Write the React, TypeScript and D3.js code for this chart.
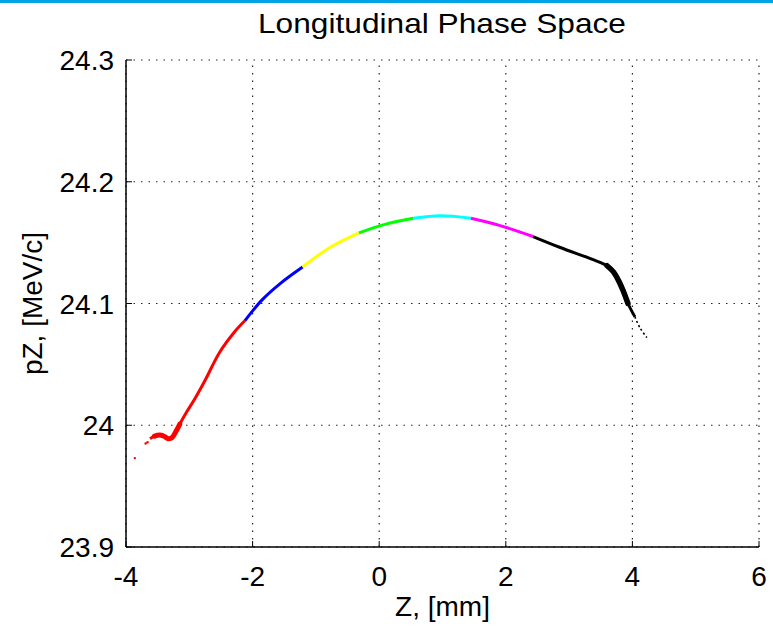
import React from "react";
import * as d3 from "d3";

const W = 773;
const H = 626;

// particle-cloud centreline, Z [mm]
const zValues = [
  -3.62, -3.55, -3.47, -3.40, -3.33, -3.27, -3.21, -3.15, -3.04, -2.91, -2.75, -2.52, -2.28, -2.12,
  -1.85, -1.55, -1.21, -0.78, -0.32, 0.09, 0.54, 0.96, 1.45, 1.91, 2.43,
  2.86, 3.38, 3.6, 3.7, 3.78, 3.85, 3.93, 4.04, 4.12, 4.23,
];
// pZ [MeV/c]
const pzValues = [
  23.989, 23.991, 23.992, 23.991, 23.989, 23.99, 23.995, 24.001, 24.011, 24.022, 24.037, 24.06, 24.077, 24.086,
  24.103, 24.117, 24.13, 24.146, 24.158, 24.165, 24.17, 24.172, 24.17, 24.164, 24.155,
  24.146, 24.136, 24.131, 24.126, 24.119, 24.111, 24.1, 24.089, 24.08, 24.072,
];
// stray particles
const strayZ = [-3.86, -3.69, -3.66];
const strayPz = [23.973, 23.985, 23.986];

// colour slices along Z (upper bound of each slice)
const sliceEnds = [-2.12, -1.21, -0.32, 0.54, 1.45, 2.43, 4.04];
const sliceColors = ["#ff0000", "#0000ff", "#ffff00", "#00ff00", "#00ffff", "#ff00ff", "#000000"];

// regions where the cloud is wider: [zFrom, zTo, width]
const thickFrom = [-3.55, 3.6];
const thickTo = [-3.15, 3.93];
const thickWidth = [5, 5.5];

const xTicks = [-4, -2, 0, 2, 4, 6];
const yTicks = [23.9, 24.0, 24.1, 24.2, 24.3];

const left = 126;
const right = 759;
const top = 60;
const bottom = 547;

export default function App() {
  const x = d3.scaleLinear().domain([-4, 6]).range([left, right]);
  const y = d3.scaleLinear().domain([23.9, 24.3]).range([bottom, top]);
  const pts: [number, number][] = zValues.map((z, i) => [z, pzValues[i]]);
  const line = d3
    .line<[number, number]>()
    .x((d) => x(d[0]))
    .y((d) => y(d[1]))
    .curve(d3.curveCatmullRom.alpha(0.5));
  const colorOf = (z: number) => {
    for (let i = 0; i < sliceEnds.length; i++) if (z <= sliceEnds[i] + 1e-9) return sliceColors[i];
    return sliceColors[sliceColors.length - 1];
  };
  const font = "'Liberation Sans', Arial, sans-serif";

  const paths = [];
  let lo = -Infinity;
  sliceEnds.forEach((hi, k) => {
    const idx = pts.map((_, i) => i).filter((i) => pts[i][0] > lo + 1e-9 && pts[i][0] <= hi + 1e-9);
    // include the shared boundary point for continuity
    const first = idx[0] > 0 && k > 0 ? [idx[0] - 1, ...idx] : idx;
    const sub = first.map((i) => pts[i]);
    paths.push(
      <path key={"c" + k} d={line(sub) || ""} fill="none" stroke={sliceColors[k]} strokeWidth={3} strokeLinecap="butt" strokeLinejoin="round" />
    );
    lo = hi;
  });
  // tail
  const tail = pts.filter((p) => p[0] >= 4.04 - 1e-9);
  paths.push(
    <path key="tail" d={line(tail) || ""} fill="none" stroke="#000" strokeWidth={1.6} strokeDasharray="2,2.5" />
  );
  thickFrom.forEach((a, k) => {
    const sub = pts.filter((p) => p[0] >= a - 1e-9 && p[0] <= thickTo[k] + 1e-9);
    paths.push(
      <path key={"t" + k} d={line(sub) || ""} fill="none" stroke={colorOf(a)} strokeWidth={thickWidth[k]} strokeLinecap="round" strokeLinejoin="round" />
    );
  });

  return (
    <svg
      width={W}
      height={H}
      style={{ position: "fixed", left: 0, top: 0, background: "#fff" }}
      fontFamily={font}
    >
      <rect x={0} y={0} width={W} height={H} fill="#fff" />
      <rect x={0} y={0} width={W} height={3} fill="#00a2e8" />
      {/* grid */}
      {xTicks.map((t) => (
        <line key={"gx" + t} x1={x(t)} x2={x(t)} y1={bottom} y2={top} stroke="#000" strokeWidth={1.2} strokeDasharray="1.5,6" opacity={0.85} />
      ))}
      {yTicks.map((t) => (
        <line key={"gy" + t} x1={left} x2={right} y1={y(t)} y2={y(t)} stroke="#000" strokeWidth={1.2} strokeDasharray="1.5,6" opacity={0.85} />
      ))}
      {/* axes */}
      <line x1={left} x2={right} y1={bottom} y2={bottom} stroke="#000" strokeWidth={1.5} />
      <line x1={left} x2={left} y1={bottom} y2={top} stroke="#000" strokeWidth={1.5} />
      {xTicks.map((t) => (
        <line key={"tx" + t} x1={x(t)} x2={x(t)} y1={bottom} y2={bottom - 6} stroke="#000" strokeWidth={1} />
      ))}
      {yTicks.map((t) => (
        <line key={"ty" + t} x1={left} x2={left + 6} y1={y(t)} y2={y(t)} stroke="#000" strokeWidth={1} />
      ))}
      {/* data */}
      {paths}
      {strayZ.map((z, i) => (
        <circle key={"st" + i} cx={x(z)} cy={y(strayPz[i])} r={1.2} fill={colorOf(z)} />
      ))}
      {/* labels */}
      {xTicks.map((t) => (
        <text key={"lx" + t} x={x(t)} y={586} textAnchor="middle" fontSize={28} fill="#000">
          {t}
        </text>
      ))}
      {yTicks.map((t) => (
        <text key={"ly" + t} x={114} y={y(t) + 10} textAnchor="end" fontSize={28} fill="#000">
          {String(+t.toFixed(1))}
        </text>
      ))}
      <text x={442} y={33} textAnchor="middle" fontSize={28} textLength={368} lengthAdjust="spacingAndGlyphs" fill="#000">
        Longitudinal Phase Space
      </text>
      <text x={(left + right) / 2} y={616} textAnchor="middle" fontSize={28} fill="#000">
        Z, [mm]
      </text>
      <text
        transform={`translate(42,${(top + bottom) / 2}) rotate(-90)`}
        textAnchor="middle"
        fontSize={28}
        fill="#000"
      >
        pZ, [MeV/c]
      </text>
    </svg>
  );
}
